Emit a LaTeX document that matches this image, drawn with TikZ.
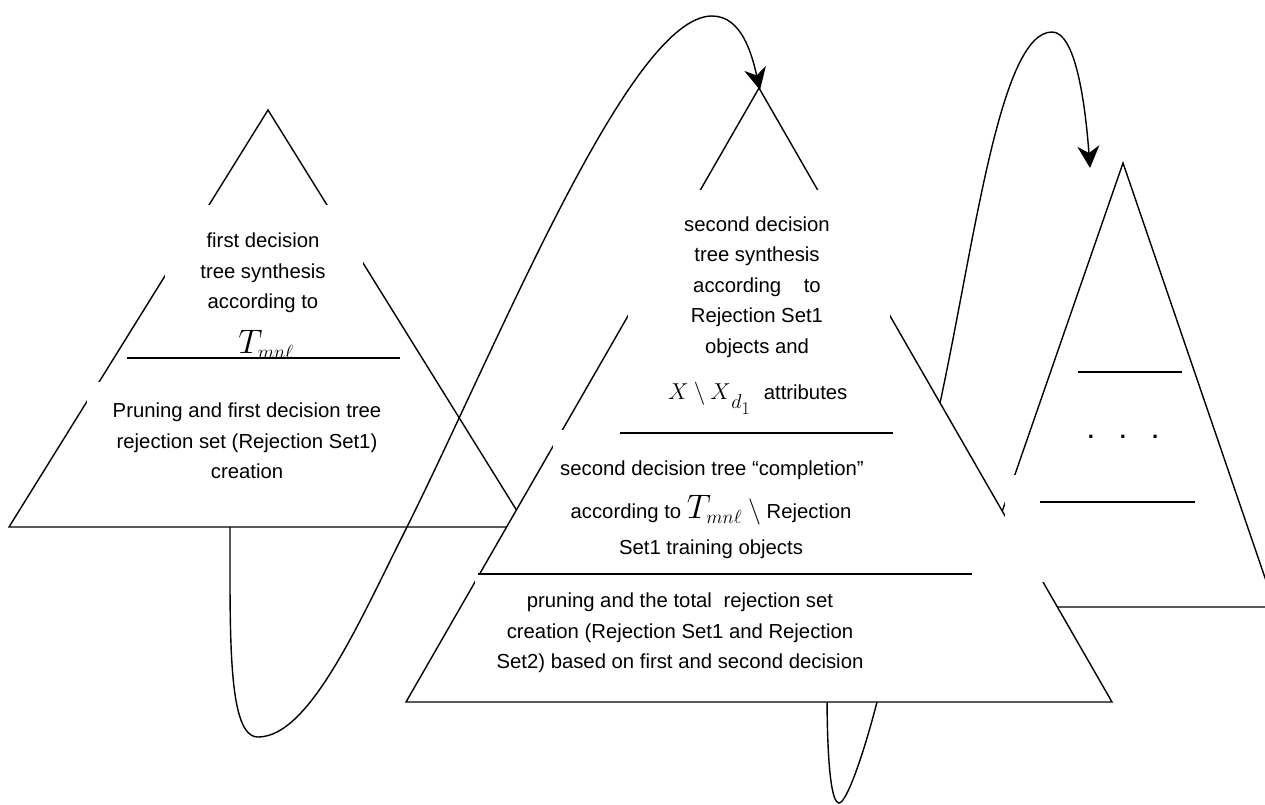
\RequirePackage{fix-cm}
\documentclass[tikz,border=0pt]{standalone}
\usepackage{fontspec}
\setmainfont{Liberation Sans}
\usetikzlibrary{arrows.meta}
\newcommand{\tmnl}{$T_{\hbox{\fontsize{19}{19}\selectfont$mn\ell$}}$}
\begin{document}
\begin{tikzpicture}[x=1pt,y=-1pt,
  tri/.style={line width=1.4pt, line join=miter, draw=black, fill=white},
  mask/.style={fill=white, draw=none},
  rule/.style={line width=1.4pt},
  flow/.style={line width=1.4pt, -{Stealth[length=22pt,width=22pt,inset=7pt]}},
  lbl/.style={inner sep=0pt, align=center, font=\fontsize{20.3}{30.5}\selectfont},
  big/.style={inner sep=0pt, font=\fontsize{34}{34}\selectfont},
]
\fill[white] (0,0) rectangle (1265,805);
\useasboundingbox (0,0) rectangle (1265,805);
\begin{scope}
\clip (0,0) rectangle (1265,805);

% ---------- first tree ----------
\coordinate (A1) at (268,110);
\coordinate (L1) at (9,527);
\coordinate (R1) at (527,527);
\draw[tri] (A1) -- (R1) -- (L1) -- cycle;
\fill[mask] (165,205) rectangle (363,352);
\fill[mask] (87,382) rectangle (400,500);
\coordinate (s1a) at (127,358);
\coordinate (s1b) at (400,358);
\draw[rule] (s1a) -- (s1b);
\node[lbl] (t1a) at (263,273) {first decision\\tree synthesis\\according to};
\node[big, anchor=base] (t1f) at (266,353) {\tmnl};
\node[lbl] (t1b) at (247,441) {Pruning and first decision tree\\rejection set (Rejection Set1)\\creation};

% ---------- further trees ----------
\coordinate (A3) at (1123,163);
\coordinate (L3) at (969,607);
\coordinate (R3) at (1275,607);
\draw[tri] (A3) -- (R3) -- (L3) -- cycle;
\coordinate (s3a) at (1078,372);
\coordinate (s3b) at (1182,372);
\draw[rule] (s3a) -- (s3b);
\node[inner sep=0pt, anchor=base, font=\bfseries\fontsize{22}{22}\selectfont] (dots) at (1123,438) {.\hspace{26pt}.\hspace{26pt}.};

% ---------- link from the second tree to the next one ----------
\coordinate (c2s) at (827,690);
\coordinate (c2b) at (839,803);
\coordinate (c2r) at (877,702);
\coordinate (c2e) at (940,403);
\coordinate (c2p) at (1052,32);
\coordinate (c2t) at (1090,168);
\draw[flow] (c2s) .. controls (827,770) and (832,803) .. (c2b)
  .. controls (846,803) and (862,760) .. (c2r)
  .. controls (895,630) and (925,470) .. (c2e)
  .. controls (975,240) and (1000,32) .. (c2p)
  .. controls (1075,32) and (1085,100) .. (c2t);

% ---------- second tree ----------
\coordinate (A2) at (759,88);
\coordinate (L2) at (406,702);
\coordinate (R2) at (1112,702);
\draw[tri] (A2) -- (R2) -- (L2) -- cycle;
\fill[mask] (628,190) rectangle (890,360);
\fill[mask] (553,430) rectangle (950,560);
\fill[mask] (475,573) rectangle (990,690);
\fill[mask] (1005,475) rectangle (1210,582);
\coordinate (s3c) at (1040,502);
\coordinate (s3d) at (1195,502);
\draw[rule] (s3c) -- (s3d);

\node[lbl] (t2a) at (757,287) {second decision\\tree synthesis\\according~\hspace{17pt}to\\Rejection Set1\\objects and};
\node[lbl, anchor=base west] (t2x) at (668,399) {{\fontsize{23}{23}\selectfont$X\setminus X$}\kern0.5pt\raisebox{-9pt}{\fontsize{20}{20}\selectfont$d$}\raisebox{-15pt}{\fontsize{18}{18}\selectfont$1$}\hspace{14pt}attributes};
\coordinate (s2a) at (620,433);
\coordinate (s2b) at (893,433);
\draw[rule] (s2a) -- (s2b);
\node[lbl, anchor=base] (t2b1) at (712,475) {second decision tree “completion”};
\node[lbl, anchor=base] (t2b2) at (711,518) {according to {\fontsize{34}{34}\selectfont\tmnl}\hspace{6pt}{\fontsize{26}{26}\selectfont$\setminus$} Rejection};
\node[lbl, anchor=base] (t2b3) at (711,554) {Set1 training objects};
\coordinate (s2c) at (478,574);
\coordinate (s2d) at (972,574);
\draw[rule] (s2c) -- (s2d);
\node[lbl] (t2c) at (680,633) {pruning and the total\hspace{6pt} rejection set\\creation (Rejection Set1 and Rejection\\Set2) based on first and second decision};

% ---------- link from the first tree to the second one ----------
\coordinate (c1s) at (230,527);
\coordinate (c1b) at (258,737);
\coordinate (c1m) at (407,527);
\coordinate (c1p) at (712,16);
\coordinate (c1t) at (760,90);
\draw[flow] (c1s) .. controls (230,640) and (228,737) .. (c1b)
  .. controls (310,737) and (360,620) .. (c1m)
  .. controls (500,340) and (630,16) .. (c1p)
  .. controls (742,16) and (752,55) .. (c1t);
\end{scope}
\end{tikzpicture}
\end{document}
